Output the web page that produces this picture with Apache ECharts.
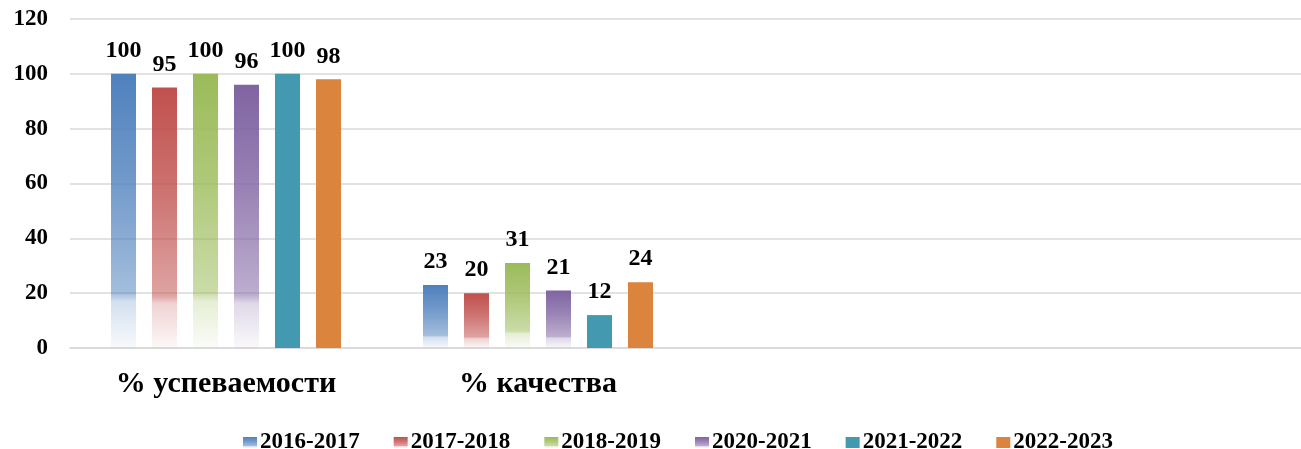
<!DOCTYPE html>
<html>
<head>
<meta charset="utf-8">
<script src="https://cdn.jsdelivr.net/npm/echarts@6/dist/echarts.min.js"></script>
<style>html,body{margin:0;padding:0;background:#fff;overflow:hidden;width:1301px;height:449px}#c{width:1318px;height:449px}</style>
</head>
<body>
<div id="c"></div>
<script>
const categories = ['% успеваемости', '% качества', ' ', '  '];
const seriesNames = ['2016-2017', '2017-2018', '2018-2019', '2020-2021', '2021-2022', '2022-2023'];
const s2016 = [100, 23];
const s2017 = [95, 20];
const s2018 = [100, 31];
const s2020 = [96, 21];
const s2021 = [100, 12];
const s2022 = [98, 24];
const yTicks = [0, 20, 40, 60, 80, 100, 120];

const colors = ['#4F81BD', '#C0504D', '#9BBB59', '#8064A2', '#4299B0', '#DB843D'];
const gradientOn = [true, true, true, true, false, false];
const allData = [s2016, s2017, s2018, s2020, s2021, s2022];

function rgba(hex, a) {
  const n = parseInt(hex.slice(1), 16);
  return 'rgba(' + ((n >> 16) & 255) + ',' + ((n >> 8) & 255) + ',' + (n & 255) + ',' + a + ')';
}
function fill(i) {
  if (!gradientOn[i]) return colors[i];
  const c = colors[i];
  return new echarts.graphic.LinearGradient(0, 0, 0, 1, [
    { offset: 0, color: rgba(c, 1) },
    { offset: 0.4, color: rgba(c, 0.8) },
    { offset: 0.8, color: rgba(c, 0.52) },
    { offset: 0.83, color: rgba(c, 0.25) },
    { offset: 1, color: rgba(c, 0.04) }
  ]);
}

const font = 'Liberation Serif';
const chart = echarts.init(document.getElementById('c'), null, { renderer: 'canvas' });
chart.setOption({
  animation: false,
  backgroundColor: '#fff',
  textStyle: { fontFamily: font },
  legend: {
    top: 426,
    left: 238,
    itemWidth: 14,
    itemHeight: 11,
    itemGap: 34,
    icon: 'rect',
    textStyle: { fontFamily: font, fontWeight: 'bold', fontSize: 23, color: '#000', padding: [0, 0, 0, -2] },
    data: seriesNames
  },
  grid: { left: 70, right: 0, top: 19, bottom: 101, containLabel: false },
  xAxis: {
    type: 'category',
    data: categories,
    axisLine: { lineStyle: { color: '#d9d9d9', width: 1.5 } },
    axisTick: { show: false },
    axisLabel: { fontFamily: font, fontWeight: 'bold', fontSize: 30, color: '#000', margin: 21 }
  },
  yAxis: {
    type: 'value',
    min: yTicks[0],
    max: yTicks[yTicks.length - 1],
    interval: 20,
    axisLine: { show: false },
    axisTick: { show: false },
    splitLine: { lineStyle: { color: '#d9d9d9', width: 1.5 } },
    axisLabel: { fontFamily: font, fontWeight: 'bold', fontSize: 23, color: '#000', margin: 22 }
  },
  series: seriesNames.map((name, i) => ({
    name: name,
    type: 'bar',
    data: allData[i],
    barWidth: 25,
    barGap: '64%',
    itemStyle: { color: fill(i) },
    label: {
      show: true,
      position: 'top',
      distance: 11,
      fontFamily: font,
      fontWeight: 'bold',
      fontSize: 24,
      color: '#000'
    }
  }))
});
</script>
</body>
</html>
